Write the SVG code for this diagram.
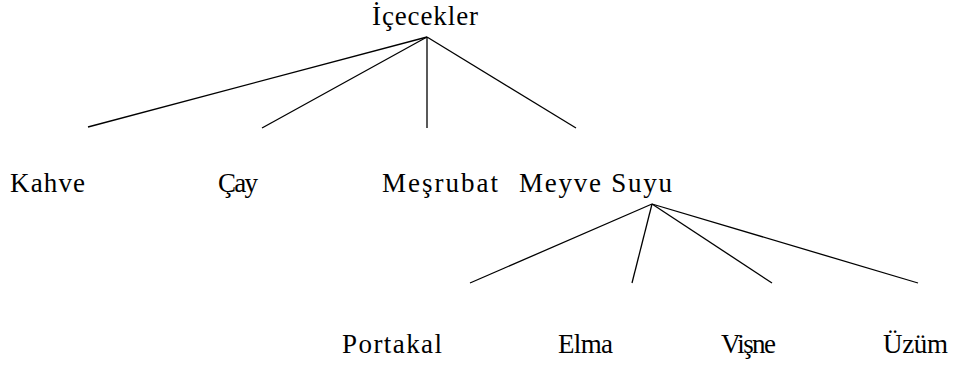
<svg xmlns="http://www.w3.org/2000/svg" width="979" height="365" viewBox="0 0 979 365">
<style>
line{stroke:#000;stroke-width:1.3}
</style>
<rect width="979" height="365" fill="#fff"/>
<g id="connectors">
<line x1="427" y1="37" x2="88" y2="127"/>
<line x1="427" y1="37" x2="262" y2="128"/>
<line x1="427" y1="37" x2="427" y2="128"/>
<line x1="427" y1="37" x2="576" y2="128"/>
<line x1="652" y1="204" x2="470" y2="283"/>
<line x1="652" y1="204" x2="632" y2="283"/>
<line x1="652" y1="204" x2="772" y2="283"/>
<line x1="652" y1="204" x2="918" y2="283"/>
</g>
<g font-family="Liberation Serif, Times New Roman, serif" font-size="27" fill="#000">
<g id="icecekler"><text x="372" y="25" textLength="106" lengthAdjust="spacing">İçecekler</text></g>
<g id="kahve"><text x="10" y="192" textLength="75" lengthAdjust="spacing">Kahve</text></g>
<g id="cay"><text x="218" y="192" textLength="40" lengthAdjust="spacing">Çay</text></g>
<g id="mesrubat"><text x="382" y="192" textLength="116" lengthAdjust="spacing">Meşrubat</text></g>
<g id="meyvesuyu"><text x="519" y="192" textLength="153" lengthAdjust="spacing">Meyve Suyu</text></g>
<g id="portakal"><text x="342" y="353" textLength="100" lengthAdjust="spacing">Portakal</text></g>
<g id="elma"><text x="558" y="353" textLength="55" lengthAdjust="spacing">Elma</text></g>
<g id="visne"><text x="721" y="353" textLength="55" lengthAdjust="spacing">Vişne</text></g>
<g id="uzum"><text x="883" y="353" textLength="65" lengthAdjust="spacing">Üzüm</text></g>
</g>
</svg>
